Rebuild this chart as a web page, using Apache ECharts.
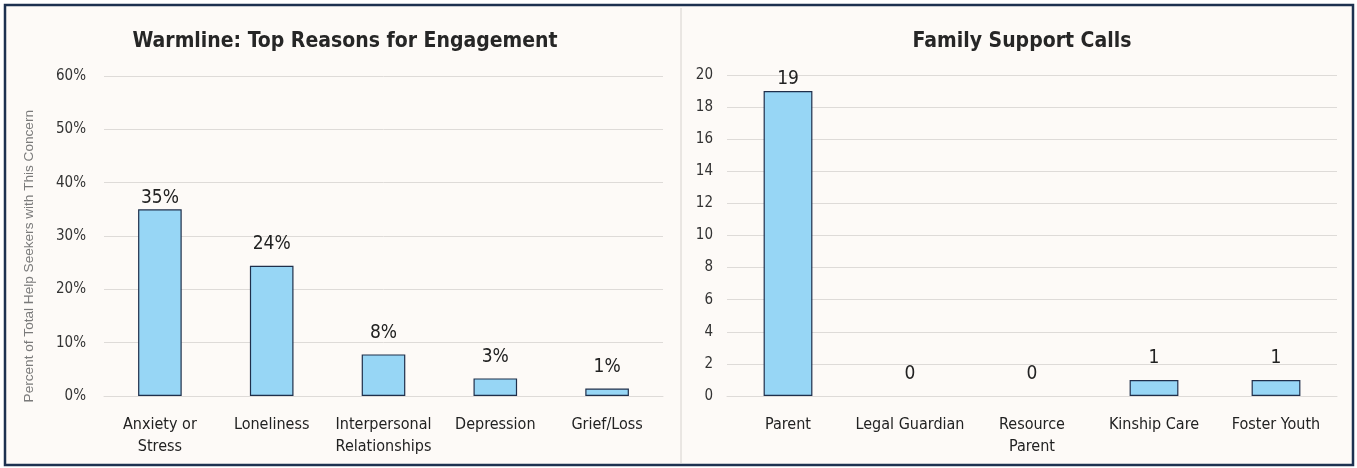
<!DOCTYPE html>
<html>
<head>
<meta charset="utf-8">
<script src="https://cdn.jsdelivr.net/npm/echarts@6/dist/echarts.min.js"></script>
<style>
  html, body { margin: 0; padding: 0; background: #ffffff; }
  #chart { width: 1357px; height: 468px; }
</style>
</head>
<body>
<div id="chart"></div>
<script>
// ---- Data ----
const warmlineCategories = ['Anxiety or\nStress', 'Loneliness', 'Interpersonal\nRelationships', 'Depression', 'Grief/Loss'];
const warmlineValues = [35, 24.4, 7.8, 3.3, 1.4];
const warmlineTicks = { min: 0, max: 60, interval: 10 };

const familyCategories = ['Parent', 'Legal Guardian', 'Resource\nParent', 'Kinship Care', 'Foster Youth'];
const familyValues = [19, 0, 0, 1, 1];
const familyTicks = { min: 0, max: 20, interval: 2 };

const titles = ['Warmline: Top Reasons for Engagement', 'Family Support Calls'];
const yAxisName = 'Percent of Total Help Seekers with This Concern';

// ---- Styles ----
const NARROW = '"Liberation Sans Narrow", "DejaVu Sans Condensed", "Roboto Condensed", sans-serif';
const REGULAR = '"Liberation Sans", Arial, sans-serif';
const barFill = '#97d6f5';
const barEdge = '#1f2f4b';
const gridColor = '#dedbd8';

function buildData(values) {
  const maxV = Math.max(...values);
  return values.map(v => ({
    value: v,
    label: { distance: v === maxV ? 2 : 12 },
    itemStyle: v === 0 ? { borderWidth: 0 } : undefined
  }));
}

const chart = echarts.init(document.getElementById('chart'));
const option = {
  backgroundColor: '#ffffff',
  animation: false,
  graphic: [
    { type: 'rect', z: -10, shape: { x: 5, y: 5, width: 1348, height: 460 },
      style: { fill: '#fdfaf7', stroke: '#1d3150', lineWidth: 2.5 } },
    { type: 'line', z: -9, shape: { x1: 681, y1: 8, x2: 681, y2: 463 },
      style: { stroke: '#d6d2ce', lineWidth: 1 } },
    { type: 'text', left: 22, top: 110, rotation: Math.PI / 2,
      style: { text: yAxisName, fill: '#7a7a7a', font: '13.6px ' + REGULAR } }
  ],
  title: [
    { text: titles[0], left: 340, top: 26, textAlign: 'center',
      textStyle: { fontFamily: NARROW, fontWeight: 'bold', fontSize: 21, color: '#262626' } },
    { text: titles[1], left: 1017, top: 26, textAlign: 'center',
      textStyle: { fontFamily: NARROW, fontWeight: 'bold', fontSize: 21, color: '#262626' } }
  ],
  grid: [
    { left: 104, right: 694, top: 76, bottom: 72 },
    { left: 727, right: 20, top: 75, bottom: 72 }
  ],
  xAxis: [
    { type: 'category', gridIndex: 0, data: warmlineCategories,
      axisLine: { lineStyle: { color: gridColor } }, axisTick: { show: false },
      axisLabel: { color: '#222', fontFamily: NARROW, fontSize: 16, lineHeight: 22, margin: 18, interval: 0 } },
    { type: 'category', gridIndex: 1, data: familyCategories,
      axisLine: { lineStyle: { color: gridColor } }, axisTick: { show: false },
      axisLabel: { color: '#222', fontFamily: NARROW, fontSize: 16, lineHeight: 22, margin: 18, interval: 0 } }
  ],
  yAxis: [
    { type: 'value', gridIndex: 0, min: warmlineTicks.min, max: warmlineTicks.max, interval: warmlineTicks.interval,
      axisLine: { show: false }, axisTick: { show: false },
      splitLine: { lineStyle: { color: gridColor } },
      axisLabel: { formatter: '{value}%', color: '#333', fontFamily: NARROW, fontSize: 15, margin: 18 } },
    { type: 'value', gridIndex: 1, min: familyTicks.min, max: familyTicks.max, interval: familyTicks.interval,
      axisLine: { show: false }, axisTick: { show: false },
      splitLine: { lineStyle: { color: gridColor } },
      axisLabel: { color: '#333', fontFamily: NARROW, fontSize: 15, margin: 14 } }
  ],
  series: [
    { type: 'bar', xAxisIndex: 0, yAxisIndex: 0, barWidth: '39%',
      data: buildData(warmlineValues),
      itemStyle: { color: barFill, borderColor: barEdge, borderWidth: 1.2 },
      label: { show: true, position: 'top', color: '#222', fontFamily: NARROW, fontSize: 19,
        formatter: p => Math.round(p.value) + '%' } },
    { type: 'bar', xAxisIndex: 1, yAxisIndex: 1, barWidth: '40%',
      data: buildData(familyValues),
      itemStyle: { color: barFill, borderColor: barEdge, borderWidth: 1.2 },
      label: { show: true, position: 'top', color: '#222', fontFamily: NARROW, fontSize: 19,
        formatter: p => String(p.value) } }
  ]
};
chart.setOption(option);
</script>
</body>
</html>
